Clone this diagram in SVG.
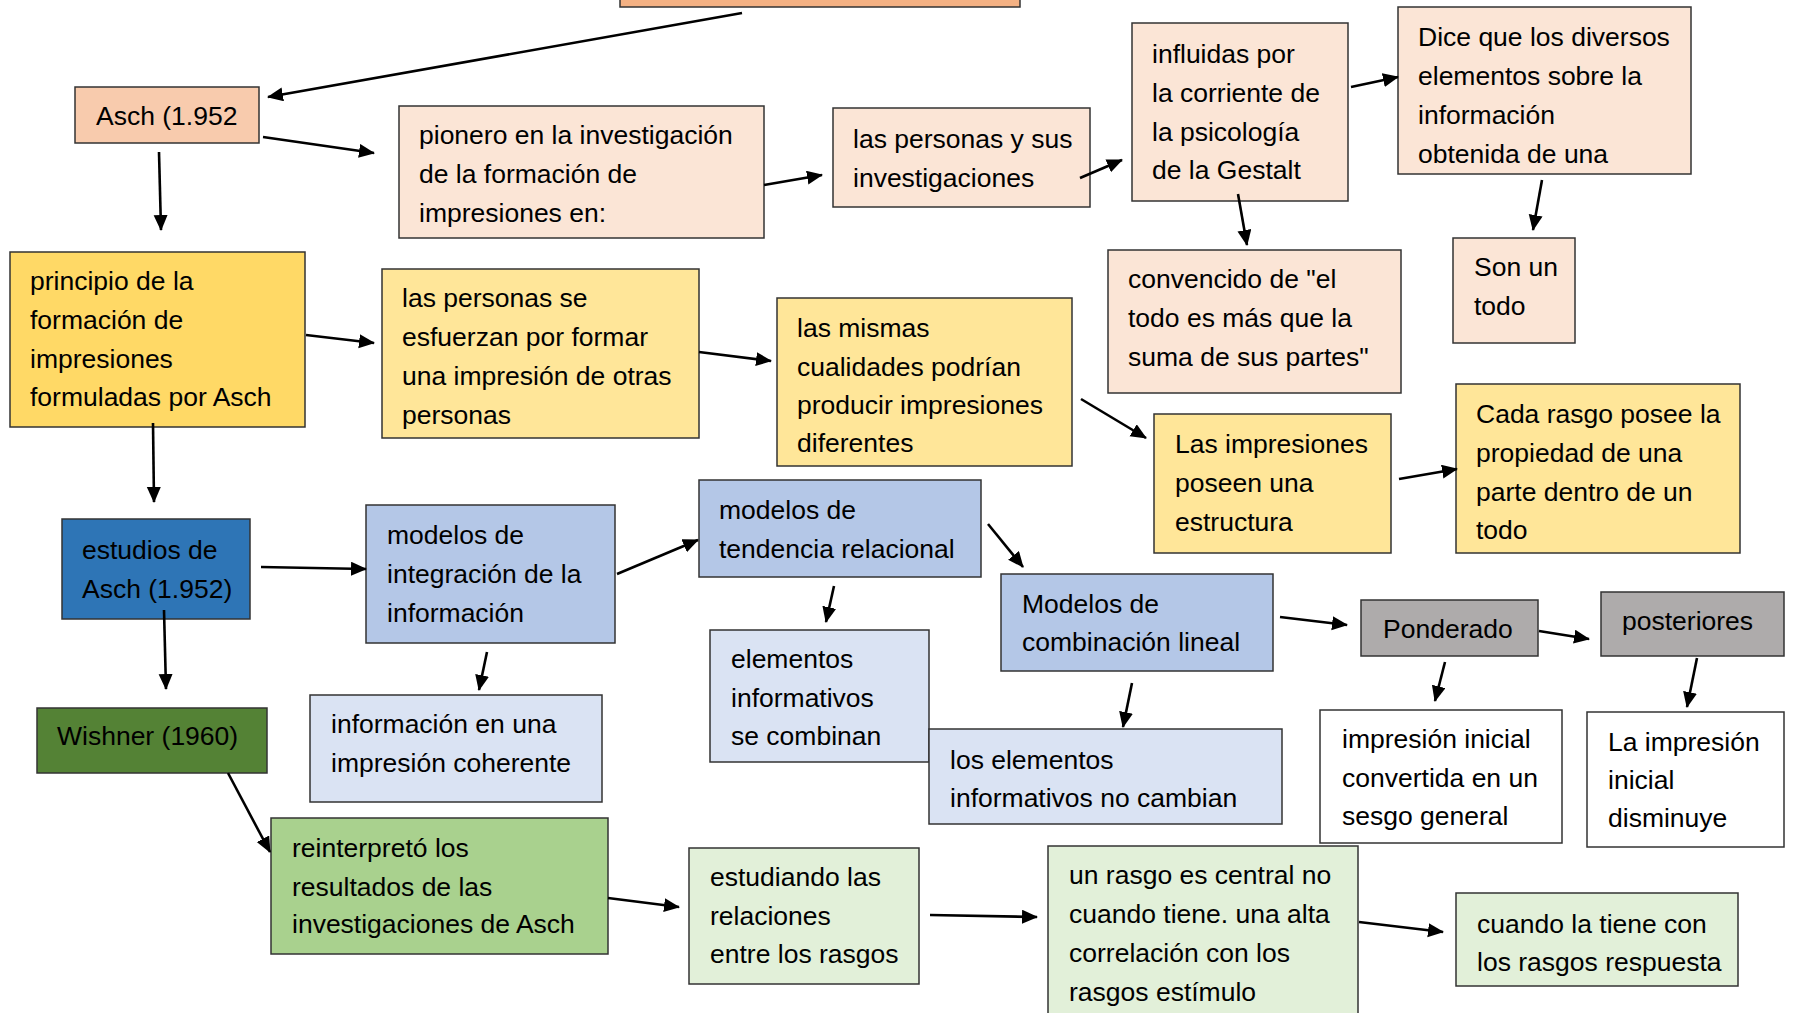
<svg xmlns="http://www.w3.org/2000/svg" width="1796" height="1013" viewBox="0 0 1796 1013">
<style>
.b{stroke:#333;stroke-width:1.5}
.t{font-family:"Liberation Sans",Arial,sans-serif;font-size:26.5px;fill:#000}
.c{stroke:#000;stroke-width:2.6;fill:none;marker-end:url(#ah)}
.o{fill:#F4B183}.a{fill:#F8CBAD}.p{fill:#FBE5D6}.y{fill:#FFD966}.ly{fill:#FFE699}
.db{fill:#2E75B6}.mb{fill:#B4C7E7}.lb{fill:#DAE3F3}.dg{fill:#548235}.mg{fill:#A9D18E}.lg{fill:#E2F0D9}
.g{fill:#AEABAB}.w{fill:#FFFFFF}
</style>
<defs>
<marker id="ah" markerUnits="userSpaceOnUse" markerWidth="18" markerHeight="16" refX="15" refY="7" orient="auto">
<path d="M0,0 L16,7 L0,14 z" fill="#000"/>
</marker>
</defs>
<rect width="1796" height="1013" fill="#FFFFFF"/>

<g id="top"><rect class="b o" x="620" y="-20" width="400" height="27"/></g>
<g id="asch"><rect class="b a" x="75" y="87" width="184" height="56"/><text class="t" x="96" y="125">Asch (1.952</text></g>
<g id="pionero"><rect class="b p" x="399" y="106" width="365" height="132"/><text class="t" x="419" y="144">pionero en la investigación</text><text class="t" x="419" y="183">de la formación de</text><text class="t" x="419" y="222">impresiones en:</text></g>
<g id="personasSus"><rect class="b p" x="833" y="108" width="257" height="99"/><text class="t" x="853" y="148">las personas y sus</text><text class="t" x="853" y="187">investigaciones</text></g>
<g id="influidas"><rect class="b p" x="1132" y="23" width="216" height="178"/><text class="t" x="1152" y="63">influidas por</text><text class="t" x="1152" y="102">la corriente de</text><text class="t" x="1152" y="141">la psicología</text><text class="t" x="1152" y="179">de la Gestalt</text></g>
<g id="dice"><rect class="b p" x="1398" y="7" width="293" height="167"/><text class="t" x="1418" y="46">Dice que los diversos</text><text class="t" x="1418" y="85">elementos sobre la</text><text class="t" x="1418" y="124">información</text><text class="t" x="1418" y="163">obtenida de una</text></g>
<g id="sonun"><rect class="b p" x="1453" y="238" width="122" height="105"/><text class="t" x="1474" y="276">Son un</text><text class="t" x="1474" y="315">todo</text></g>
<g id="convencido"><rect class="b p" x="1108" y="250" width="293" height="143"/><text class="t" x="1128" y="288">convencido de "el</text><text class="t" x="1128" y="327">todo es más que la</text><text class="t" x="1128" y="366">suma de sus partes"</text></g>
<g id="principio"><rect class="b y" x="10" y="252" width="295" height="175"/><text class="t" x="30" y="290">principio de la</text><text class="t" x="30" y="329">formación de</text><text class="t" x="30" y="368">impresiones</text><text class="t" x="30" y="406">formuladas por Asch</text></g>
<g id="personasSe"><rect class="b ly" x="382" y="269" width="317" height="169"/><text class="t" x="402" y="307">las personas se</text><text class="t" x="402" y="346">esfuerzan por formar</text><text class="t" x="402" y="385">una impresión de otras</text><text class="t" x="402" y="424">personas</text></g>
<g id="mismas"><rect class="b ly" x="777" y="298" width="295" height="168"/><text class="t" x="797" y="337">las mismas</text><text class="t" x="797" y="376">cualidades podrían</text><text class="t" x="797" y="414">producir impresiones</text><text class="t" x="797" y="452">diferentes</text></g>
<g id="impresiones"><rect class="b ly" x="1154" y="414" width="237" height="139"/><text class="t" x="1175" y="453">Las impresiones</text><text class="t" x="1175" y="492">poseen una</text><text class="t" x="1175" y="531">estructura</text></g>
<g id="cada"><rect class="b ly" x="1456" y="384" width="284" height="169"/><text class="t" x="1476" y="423">Cada rasgo posee la</text><text class="t" x="1476" y="462">propiedad de una</text><text class="t" x="1476" y="501">parte dentro de un</text><text class="t" x="1476" y="539">todo</text></g>
<g id="estudios"><rect class="b db" x="62" y="519" width="188" height="100"/><text class="t" x="82" y="559">estudios de</text><text class="t" x="82" y="598">Asch (1.952)</text></g>
<g id="integracion"><rect class="b mb" x="366" y="505" width="249" height="138"/><text class="t" x="387" y="544">modelos de</text><text class="t" x="387" y="583">integración de la</text><text class="t" x="387" y="622">información</text></g>
<g id="tendencia"><rect class="b mb" x="699" y="480" width="282" height="97"/><text class="t" x="719" y="519">modelos de</text><text class="t" x="719" y="558">tendencia relacional</text></g>
<g id="combinacion"><rect class="b mb" x="1001" y="574" width="272" height="97"/><text class="t" x="1022" y="613">Modelos de</text><text class="t" x="1022" y="651">combinación lineal</text></g>
<g id="coherente"><rect class="b lb" x="310" y="695" width="292" height="107"/><text class="t" x="331" y="733">información en una</text><text class="t" x="331" y="772">impresión coherente</text></g>
<g id="elementos"><rect class="b lb" x="710" y="630" width="219" height="132"/><text class="t" x="731" y="668">elementos</text><text class="t" x="731" y="707">informativos</text><text class="t" x="731" y="745">se combinan</text></g>
<g id="noCambian"><rect class="b lb" x="929" y="729" width="353" height="95"/><text class="t" x="950" y="769">los elementos</text><text class="t" x="950" y="807">informativos no cambian</text></g>
<g id="wishner"><rect class="b dg" x="37" y="708" width="230" height="65"/><text class="t" x="57" y="745">Wishner (1960)</text></g>
<g id="ponderado"><rect class="b g" x="1361" y="600" width="177" height="56"/><text class="t" x="1383" y="638">Ponderado</text></g>
<g id="posteriores"><rect class="b g" x="1601" y="592" width="183" height="64"/><text class="t" x="1622" y="630">posteriores</text></g>
<g id="sesgo"><rect class="b w" x="1320" y="710" width="242" height="133"/><text class="t" x="1342" y="748">impresión inicial</text><text class="t" x="1342" y="787">convertida en un</text><text class="t" x="1342" y="825">sesgo general</text></g>
<g id="disminuye"><rect class="b w" x="1587" y="712" width="197" height="135"/><text class="t" x="1608" y="751">La impresión</text><text class="t" x="1608" y="789">inicial</text><text class="t" x="1608" y="827">disminuye</text></g>
<g id="reinterpreto"><rect class="b mg" x="271" y="818" width="337" height="136"/><text class="t" x="292" y="857">reinterpretó los</text><text class="t" x="292" y="896">resultados de las</text><text class="t" x="292" y="933">investigaciones de Asch</text></g>
<g id="estudiando"><rect class="b lg" x="689" y="848" width="230" height="136"/><text class="t" x="710" y="886">estudiando las</text><text class="t" x="710" y="925">relaciones</text><text class="t" x="710" y="963">entre los rasgos</text></g>
<g id="rasgoCentral"><rect class="b lg" x="1048" y="846" width="310" height="190"/><text class="t" x="1069" y="884">un rasgo es central no</text><text class="t" x="1069" y="923">cuando tiene. una alta</text><text class="t" x="1069" y="962">correlación con los</text><text class="t" x="1069" y="1001">rasgos estímulo</text></g>
<g id="respuesta"><rect class="b lg" x="1456" y="893" width="282" height="93"/><text class="t" x="1477" y="933">cuando la tiene con</text><text class="t" x="1477" y="971">los rasgos respuesta</text></g>

<g id="connectors">
<line class="c" x1="742" y1="13" x2="268" y2="97"/>
<line class="c" x1="263" y1="137" x2="374" y2="153"/>
<line class="c" x1="159" y1="152" x2="161" y2="230"/>
<line class="c" x1="764" y1="185" x2="822" y2="175"/>
<line class="c" x1="1080" y1="178" x2="1122" y2="160"/>
<line class="c" x1="1351" y1="87" x2="1398" y2="77"/>
<line class="c" x1="1542" y1="180" x2="1533" y2="230"/>
<line class="c" x1="1238" y1="194" x2="1247" y2="245"/>
<line class="c" x1="306" y1="335" x2="374" y2="343"/>
<line class="c" x1="153" y1="423" x2="154" y2="502"/>
<line class="c" x1="699" y1="352" x2="771" y2="361"/>
<line class="c" x1="1081" y1="399" x2="1146" y2="438"/>
<line class="c" x1="1399" y1="479" x2="1457" y2="469"/>
<line class="c" x1="261" y1="567" x2="366" y2="569"/>
<line class="c" x1="617" y1="574" x2="698" y2="540"/>
<line class="c" x1="487" y1="652" x2="479" y2="690"/>
<line class="c" x1="164" y1="610" x2="166" y2="689"/>
<line class="c" x1="228" y1="773" x2="270" y2="852"/>
<line class="c" x1="834" y1="586" x2="826" y2="622"/>
<line class="c" x1="988" y1="524" x2="1023" y2="567"/>
<line class="c" x1="1132" y1="683" x2="1123" y2="727"/>
<line class="c" x1="1280" y1="617" x2="1347" y2="625"/>
<line class="c" x1="1539" y1="631" x2="1589" y2="639"/>
<line class="c" x1="1445" y1="662" x2="1435" y2="701"/>
<line class="c" x1="1697" y1="658" x2="1687" y2="707"/>
<line class="c" x1="608" y1="898" x2="679" y2="907"/>
<line class="c" x1="930" y1="915" x2="1037" y2="917"/>
<line class="c" x1="1359" y1="922" x2="1443" y2="932"/>
</g>
</svg>
